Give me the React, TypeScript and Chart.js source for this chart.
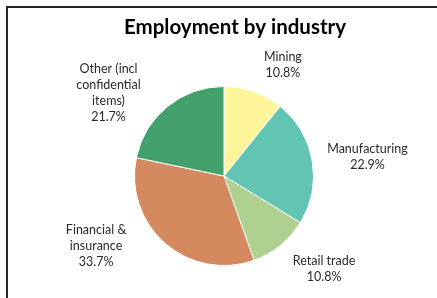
import React, { useEffect, useRef } from "react";
import { Chart, registerables } from "chart.js";

Chart.register(...registerables);

const industries = ["Mining", "Manufacturing", "Retail trade", "Financial & insurance", "Other (incl confidential items)"];
const labelLines = [["Mining"], ["Manufacturing"], ["Retail trade"], ["Financial &", "insurance"], ["Other (incl", "confidential", "items)"]];
const shares = [10.8, 22.9, 10.8, 33.7, 21.7];
const colors = ["#FFF59B", "#62C5B4", "#AED18F", "#D4895F", "#42A06B"];
const titleText = "Employment by industry";

// label layout: angular shift (deg) from slice mid-angle and distance as multiple of radius
const labelAngleShift = [8.4, 2.1, -8.0, 20.2, -15.2];
const labelDistance = [1.408, 1.618, 1.526, 1.63, 1.589];

const FONT = "Lato, 'Open Sans', sans-serif";

const labelPlugin = {
  id: "outerLabels",
  afterDatasetsDraw(chart: any) {
    const ctx = chart.ctx;
    const meta = chart.getDatasetMeta(0);
    ctx.save();
    // title, centred on the whole chart frame
    ctx.font = `bold 20.5px ${FONT}`;
    ctx.fillStyle = "#000000";
    ctx.textAlign = "center";
    ctx.textBaseline = "alphabetic";
    ctx.fillText(titleText, chart.width / 2, 33.5);

    ctx.font = `12.5px ${FONT}`;
    ctx.fillStyle = "#2a2a2a";
    ctx.textBaseline = "middle";
    const lh = 16;
    meta.data.forEach((arc: any, i: number) => {
      const p = arc.getProps(["x", "y", "startAngle", "endAngle", "outerRadius"], true);
      const mid = (p.startAngle + p.endAngle) / 2 + (labelAngleShift[i] * Math.PI) / 180;
      const d = p.outerRadius * labelDistance[i];
      const cx = p.x + Math.cos(mid) * d;
      const cy = p.y + Math.sin(mid) * d;
      const lines = [...labelLines[i], shares[i].toFixed(1) + "%"];
      const top = cy - ((lines.length - 1) * lh) / 2;
      lines.forEach((t, j) => ctx.fillText(t, cx, top + j * lh));
    });
    ctx.restore();
  },
};

export default function App() {
  const ref = useRef<HTMLCanvasElement | null>(null);
  useEffect(() => {
    document.body.style.margin = "0";
    const chart = new Chart(ref.current!, {
      type: "pie",
      data: {
        labels: industries,
        datasets: [
          {
            data: shares,
            backgroundColor: colors,
            borderColor: "#ffffff",
            borderWidth: 1,
          },
        ],
      },
      options: {
        animation: false,
        responsive: false,
        layout: { padding: { left: 134, right: 156, top: 86, bottom: 32 } },
        plugins: {
          legend: { display: false },
          tooltip: { enabled: false },
          title: { display: false },
        },
      },
      plugins: [labelPlugin],
    });
    return () => chart.destroy();
  }, []);
  return (
    <div style={{ position: "fixed", left: 0, top: 0, width: 437, height: 298, overflow: "hidden", background: "#fff" }}>
      <div
        style={{
          position: "absolute",
          left: 6,
          top: 6,
          width: 500,
          height: 320,
          borderLeft: "2px solid #262626",
          borderTop: "2px solid #262626",
        }}
      />
      <canvas ref={ref} width={470} height={298} style={{ position: "absolute", left: 0, top: 0, width: 470, height: 298 }} />
    </div>
  );
}
